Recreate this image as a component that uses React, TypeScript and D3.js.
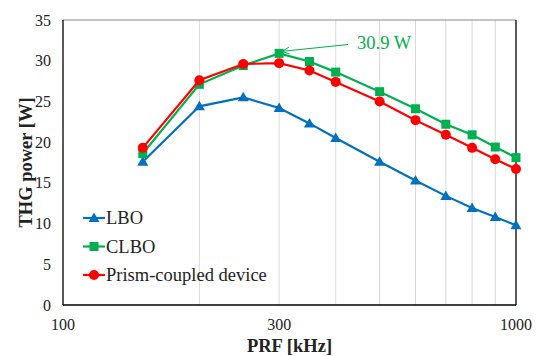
import React, { useRef, useEffect } from 'react'
import * as d3 from 'd3'

const prf = [150, 200, 250, 300, 350, 400, 500, 600, 700, 800, 900, 1000]
const lbo = [17.6, 24.4, 25.5, 24.2, 22.3, 20.5, 17.6, 15.3, 13.4, 11.9, 10.8, 9.8]
const clbo = [18.6, 27.1, 29.4, 30.9, 29.9, 28.6, 26.2, 24.1, 22.2, 20.9, 19.4, 18.1]
const prism = [19.3, 27.6, 29.6, 29.7, 28.8, 27.4, 25.0, 22.7, 20.9, 19.3, 17.9, 16.7]
const gridX = [200, 300, 400, 500, 600, 700, 800, 900]
const xTicks = [100, 300, 1000]
const yTicks = [0, 5, 10, 15, 20, 25, 30, 35]

const series = [
  { name: 'LBO', values: lbo, color: '#0070C0', marker: 'triangle' },
  { name: 'CLBO', values: clbo, color: '#00B050', marker: 'square' },
  { name: 'Prism-coupled device', values: prism, color: '#FF0000', marker: 'circle' },
]

const font = "'Liberation Serif', 'Times New Roman', 'DejaVu Serif', serif"

export default function App() {
  const ref = useRef<SVGSVGElement>(null)

  useEffect(() => {
    const width = 536
    const height = 356
    const m = { top: 20, right: 20, bottom: 51, left: 63 }
    const svg = d3.select(ref.current)
    svg.selectAll('*').remove()

    const x = d3.scaleLog().domain([100, 1000]).range([m.left, width - m.right])
    const y = d3.scaleLinear().domain([0, 35]).range([height - m.bottom, m.top])

    // vertical grid lines
    svg.selectAll('.grid')
      .data(gridX)
      .enter()
      .append('line')
      .attr('x1', d => x(d)).attr('x2', d => x(d))
      .attr('y1', y(0)).attr('y2', y(35))
      .attr('stroke', '#d9d9d9')
      .attr('stroke-width', 1)

    // frame
    svg.append('line')
      .attr('x1', x(100)).attr('x2', x(1000)).attr('y1', y(35)).attr('y2', y(35))
      .attr('stroke', '#888').attr('stroke-width', 1)
    svg.append('line')
      .attr('x1', x(1000)).attr('x2', x(1000)).attr('y1', y(35)).attr('y2', y(0))
      .attr('stroke', '#000').attr('stroke-width', 1.3)
    svg.append('line')
      .attr('x1', x(100)).attr('x2', x(100)).attr('y1', y(35)).attr('y2', y(0))
      .attr('stroke', '#000').attr('stroke-width', 1.3)
    svg.append('line')
      .attr('x1', x(100)).attr('x2', x(1000)).attr('y1', y(0)).attr('y2', y(0))
      .attr('stroke', '#000').attr('stroke-width', 1.3)

    // tick labels
    svg.selectAll('.ytick')
      .data(yTicks)
      .enter()
      .append('text')
      .attr('x', m.left - 12)
      .attr('y', d => y(d) + 5.5)
      .attr('text-anchor', 'end')
      .style('font-family', font)
      .attr('font-size', 16)
      .attr('fill', '#222')
      .text(d => d)

    svg.selectAll('.xtick')
      .data(xTicks)
      .enter()
      .append('text')
      .attr('x', d => x(d))
      .attr('y', y(0) + 24.5)
      .attr('text-anchor', 'middle')
      .style('font-family', font)
      .attr('font-size', 16)
      .attr('fill', '#222')
      .text(d => d)

    // axis titles
    svg.append('text')
      .attr('transform', `translate(32,${(y(0) + y(35)) / 2}) rotate(-90)`)
      .attr('text-anchor', 'middle')
      .style('font-family', font)
      .attr('font-size', 18.5)
      .attr('font-weight', 'bold')
      .attr('fill', '#222')
      .text('THG power [W]')

    svg.append('text')
      .attr('x', (x(100) + x(1000)) / 2)
      .attr('y', height - 4)
      .attr('text-anchor', 'middle')
      .style('font-family', font)
      .attr('font-size', 18.5)
      .attr('font-weight', 'bold')
      .attr('fill', '#222')
      .text('PRF [kHz]')

    const line = d3.line<number>()
      .x((d, i) => x(prf[i]))
      .y(d => y(d))

    function drawMarker(g: any, kind: string, cx: number, cy: number, color: string) {
      if (kind === 'circle') {
        g.append('circle').attr('cx', cx).attr('cy', cy).attr('r', 5).attr('fill', color)
      } else if (kind === 'square') {
        g.append('rect').attr('x', cx - 4.5).attr('y', cy - 4.5).attr('width', 9).attr('height', 9).attr('fill', color)
      } else {
        g.append('path')
          .attr('d', `M${cx},${cy - 5.5} L${cx + 5.5},${cy + 4} L${cx - 5.5},${cy + 4} Z`)
          .attr('fill', color)
      }
    }

    series.forEach(s => {
      const g = svg.append('g')
      g.append('path')
        .datum(s.values)
        .attr('d', line)
        .attr('fill', 'none')
        .attr('stroke', s.color)
        .attr('stroke-width', 2.2)
      s.values.forEach((v, i) => drawMarker(g, s.marker, x(prf[i]), y(v), s.color))
    })

    // annotation arrow for the CLBO peak
    const ax = x(300) + 3
    const ay = y(30.9) - 2
    svg.append('line')
      .attr('x1', 348).attr('y1', 44.5)
      .attr('x2', ax).attr('y2', ay)
      .attr('stroke', '#00B050').attr('stroke-width', 1)
    const ang = Math.atan2(44.5 - ay, 348 - ax)
    const len = 8
    const spread = 0.45
    svg.append('path')
      .attr('d', `M${ax + len * Math.cos(ang + spread)},${ay + len * Math.sin(ang + spread)} L${ax},${ay} L${ax + len * Math.cos(ang - spread)},${ay + len * Math.sin(ang - spread)}`)
      .attr('fill', 'none')
      .attr('stroke', '#00B050').attr('stroke-width', 1)
    svg.append('text')
      .attr('x', 357)
      .attr('y', 49)
      .style('font-family', font)
      .attr('font-size', 18.5)
      .attr('fill', '#00B050')
      .text('30.9 W')

    // legend
    series.forEach((s, i) => {
      const ly = 218 + i * 28.5
      const g = svg.append('g')
      g.append('line')
        .attr('x1', 83).attr('x2', 105).attr('y1', ly).attr('y2', ly)
        .attr('stroke', s.color).attr('stroke-width', 2.2)
      drawMarker(g, s.marker, 94, ly, s.color)
      g.append('text')
        .attr('x', 106)
        .attr('y', ly + 6)
        .style('font-family', font)
        .attr('font-size', 18.5)
        .attr('fill', '#222')
        .text(s.name)
    })
  }, [])

  return (
    <svg ref={ref} width={536} height={356}
      style={{ position: 'absolute', left: 0, top: 0, background: '#fff' }} />
  )
}
